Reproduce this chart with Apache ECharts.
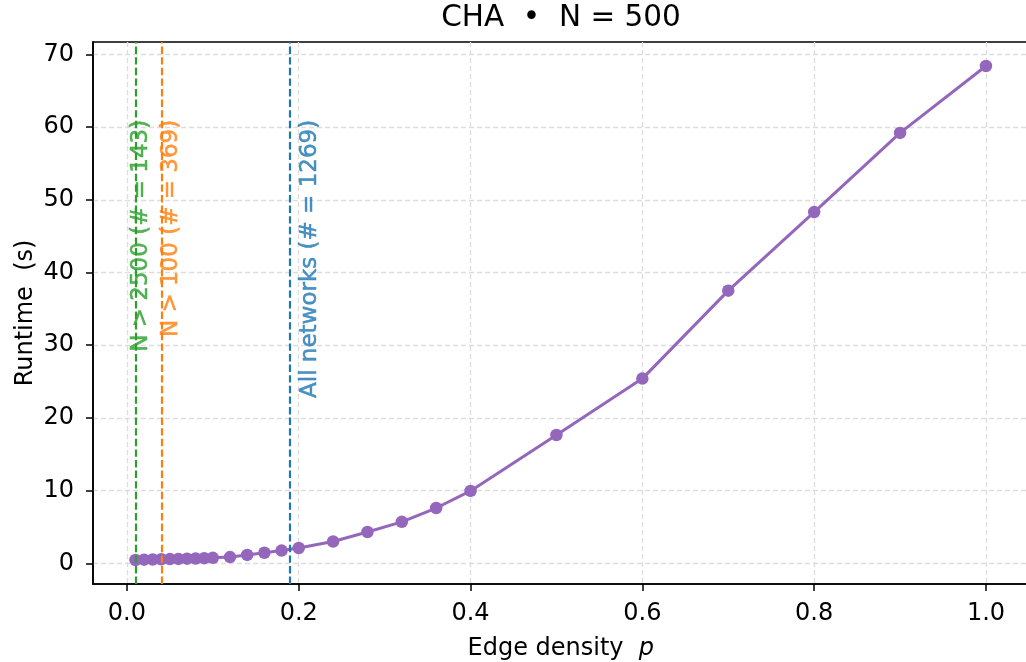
<!DOCTYPE html>
<html>
<head>
<meta charset="utf-8">
<script src="https://cdn.jsdelivr.net/npm/echarts@6/dist/echarts.min.js"></script>
<style>html,body{margin:0;padding:0;background:#fff}#c{width:1026px;height:662px}</style>
</head>
<body>
<div id="c"></div>
<script>
// ---- data ----
const titleText = 'CHA  \u2022  N = 500';
const xLabel = 'Edge density  ';
const yLabel = 'Runtime  (s)';
const edgeDensity = [0.01,0.02,0.03,0.04,0.05,0.06,0.07,0.08,0.09,0.10,0.12,0.14,0.16,0.18,0.20,0.24,0.28,0.32,0.36,0.40,0.5,0.6,0.7,0.8,0.9,1.0];
const runtime = [0.45,0.5,0.52,0.55,0.58,0.6,0.63,0.66,0.7,0.75,0.85,1.15,1.45,1.75,2.1,3.0,4.3,5.7,7.6,9.95,17.65,25.4,37.5,48.3,59.2,68.4];
const thresholdX = [0.006, 0.0393, 0.1945];
const thresholdText = ['N > 2500 (# = 143)', 'N > 100 (# = 369)', 'All networks (# = 1269)'];
const thresholdColor = ['#2ca02c', '#ff7f0e', '#1f77b4'];
const xTicks = [0, 0.2, 0.4, 0.6, 0.8, 1.0];
const yTicks = [0, 10, 20, 30, 40, 50, 60, 70];
// label anchor positions (data coords)
const labelAnchorX = [0.0168, 0.0518, 0.2135];
const labelAnchorY = 61;

const font = 'DejaVu Sans';
const chart = echarts.init(document.getElementById('c'), null, {renderer: 'canvas'});

const gridLine = {show: true, lineStyle: {color: '#dddddd', width: 1.3, type: [5, 3]}};

const series = [
  {
    type: 'line',
    data: edgeDensity.map((x, i) => [x, runtime[i]]),
    color: '#9467bd',
    lineStyle: {width: 3, color: '#9467bd'},
    symbol: 'circle',
    symbolSize: 12.5,
    itemStyle: {color: '#9467bd'},
    z: 3,
    animation: false
  }
];
thresholdX.forEach((v, i) => {
  series.push({
    type: 'line',
    data: [],
    z: 4,
    markLine: {
      silent: true,
      symbol: 'none',
      animation: false,
      label: {show: false},
      lineStyle: {color: thresholdColor[i], width: 2.2, type: [7.4, 3.2]},
      data: [{xAxis: v}]
    }
  });
  series.push({
    type: 'scatter',
    data: [[labelAnchorX[i], labelAnchorY]],
    symbolSize: 0,
    silent: true,
    z: 5,
    animation: false,
    itemStyle: {color: thresholdColor[i]},
    label: {
      show: true,
      position: 'inside',
      rotate: 90,
      align: 'right',
      verticalAlign: 'middle',
      formatter: thresholdText[i],
      color: thresholdColor[i],
      textBorderWidth: 0.5,
      textBorderColor: thresholdColor[i],
      fontFamily: font,
      fontSize: 23
    }
  });
});

chart.setOption({
  animation: false,
  backgroundColor: '#fff',
  title: {
    text: titleText,
    left: 561,
    top: 3,
    padding: 0,
    textAlign: 'center',
    textStyle: {fontFamily: font, fontSize: 29.5, fontWeight: 'normal', color: '#000'}
  },
  grid: {left: 93, right: -2.5, top: 42, bottom: 78, show: true, borderColor: '#000', borderWidth: 1.6, backgroundColor: 'transparent', outerBoundsMode: 'none', containLabel: false},
  xAxis: {
    type: 'value',
    min: -0.0395,
    max: 1.0495,
    splitNumber: 5,
    name: xLabel + '{i|p}',
    nameLocation: 'middle',
    nameGap: 53,
    nameMoveOverlap: false,
    nameTextStyle: {fontFamily: font, fontSize: 24, color: '#000', rich: {i: {fontFamily: font, fontSize: 24, fontStyle: 'italic', color: '#000'}}},
    axisLine: {show: true, onZero: false, lineStyle: {color: '#000', width: 1.6}},
    axisTick: {show: true, inside: false, length: 7, lineStyle: {color: '#000', width: 1.5}, customValues: xTicks},
    axisLabel: {show: true, margin: 18, fontFamily: font, fontSize: 24, color: '#000', customValues: xTicks, formatter: v => v.toFixed(1)},
    splitLine: gridLine
  },
  yAxis: {
    type: 'value',
    min: -2.85,
    max: 71.7,
    splitNumber: 7,
    name: yLabel,
    nameLocation: 'middle',
    nameGap: 55,
    nameMoveOverlap: false,
    nameTextStyle: {fontFamily: font, fontSize: 24, color: '#000'},
    axisLine: {show: true, onZero: false, lineStyle: {color: '#000', width: 1.6}},
    axisTick: {show: true, inside: false, length: 7, lineStyle: {color: '#000', width: 1.5}, customValues: yTicks},
    axisLabel: {show: true, margin: 19, fontFamily: font, fontSize: 24, color: '#000', customValues: yTicks, formatter: v => String(v)},
    splitLine: gridLine
  },
  series: series
});
</script>
</body>
</html>
